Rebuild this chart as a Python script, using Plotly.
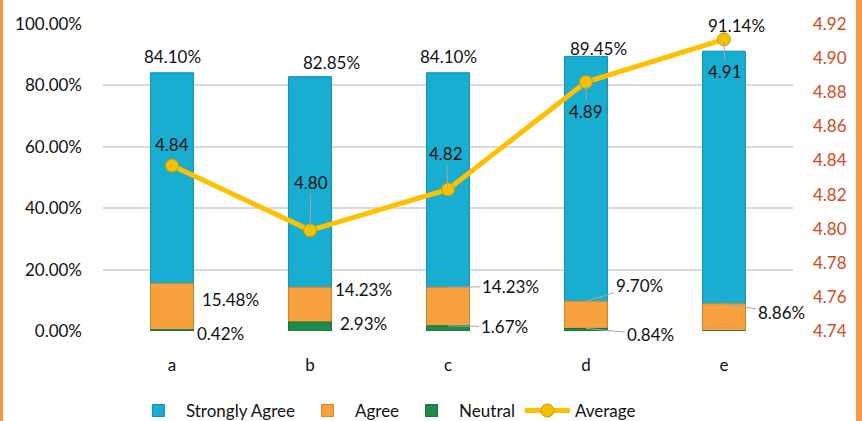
import plotly.graph_objects as go

categories = ["a", "b", "c", "d", "e"]
strongly_agree = [84.10, 82.85, 84.10, 89.45, 91.14]
agree = [15.48, 14.23, 14.23, 9.70, 8.86]
neutral = [0.42, 2.93, 1.67, 0.84, None]
average = [4.837, 4.799, 4.823, 4.886, 4.911]

left_ticks = [0, 0.2, 0.4, 0.6, 0.8, 1.0]
right_ticks = [4.74, 4.76, 4.78, 4.80, 4.82, 4.84, 4.86, 4.88, 4.90, 4.92]

FONT = "Lato"
W, H = 862, 421
ML, MR, MT, MB = 103, 69, 24, 90
PW, PH = W - ML - MR, H - MT - MB

BLUE = "#17AED1"
ORANGE = "#F7A23E"
GREEN = "#1F8B4C"
GOLD = "#FFC000"
RED = "#D2491F"

fig = go.Figure()
fig.add_trace(go.Bar(x=categories, y=[v / 100 for v in strongly_agree], name="Strongly Agree",
                     marker=dict(color=BLUE, line=dict(color="#0E8AA8", width=1)), width=0.31))
fig.add_trace(go.Bar(x=categories, y=[v / 100 for v in agree], name="Agree",
                     marker=dict(color=ORANGE, line=dict(color="#D9822B", width=1)), width=0.31))
fig.add_trace(go.Bar(x=categories, y=[(v or 0) / 100 for v in neutral], name="Neutral",
                     marker=dict(color=GREEN, line=dict(color="#166B39", width=1)), width=0.31))
fig.add_trace(go.Scatter(x=categories, y=average, name="Average", yaxis="y2", mode="lines+markers",
                         line=dict(color=GOLD, width=5),
                         marker=dict(size=13, color="#F2C200", line=dict(color="#C99A00", width=1))))

ann = []
lab_font = dict(family=FONT, size=17, color="#111111")
# Strongly agree labels: (xshift, yshift)
sa_off = [(0, 16), (21, 14), (0, 16), (12, 8), (12, 26)]
for c, v, (dx, dy) in zip(categories, strongly_agree, sa_off):
    ann.append(dict(x=c, y=v / 100, yref="y", text=f"{v:.2f}%", showarrow=False,
                    xshift=dx, yshift=dy, font=lab_font))
# Agree labels: (ax, ay, arrow)
ag_off = [(58, 16, False), (53, 2, False), (62, -1, True), (53, -16, True), (57, 9, True)]
for c, v, (ax, ay, arr) in zip(categories, agree, ag_off):
    if arr:
        ann.append(dict(x=c, y=v / 100, yref="y", text=f"{v:.2f}%", showarrow=True, ax=ax, ay=ay,
                        arrowhead=0, arrowwidth=1, arrowcolor="#A6A6A6", font=lab_font))
    else:
        ann.append(dict(x=c, y=v / 100, yref="y", text=f"{v:.2f}%", showarrow=False,
                        xshift=ax, yshift=-ay, font=lab_font))
ne_off = [(48, 4, False), (53, 1, False), (56, 1, True), (64, 6, True), (0, 0, False)]
for c, v, (ax, ay, arr) in zip(categories, neutral, ne_off):
    if v is None:
        continue
    if arr:
        ann.append(dict(x=c, y=v / 100, yref="y", text=f"{v:.2f}%", showarrow=True, ax=ax, ay=ay,
                        arrowhead=0, arrowwidth=1, arrowcolor="#A6A6A6", font=lab_font))
    else:
        ann.append(dict(x=c, y=v / 100, yref="y", text=f"{v:.2f}%", showarrow=False,
                        xshift=ax, yshift=-ay, font=lab_font))
av_off = [(0, -21, False), (1, -48, True), (-2, -36, True), (0, 30, True), (1, 32, True)]
for c, v, (ax, ay, arr) in zip(categories, average, av_off):
    if arr:
        ann.append(dict(x=c, y=v, yref="y2", text=f"{v:.2f}", showarrow=True, ax=ax, ay=ay,
                        arrowhead=0, arrowwidth=1, arrowcolor="#A6A6A6", standoff=2, font=lab_font))
    else:
        ann.append(dict(x=c, y=v, yref="y2", text=f"{v:.2f}", showarrow=False,
                        xshift=ax, yshift=-ay, font=lab_font))


def px_x(p):
    return (p - ML) / PW


def px_y(p):
    return (H - MB - p) / PH


shapes = [
    dict(type="rect", xref="paper", yref="paper", x0=px_x(0), x1=px_x(3), y0=px_y(H), y1=px_y(0),
         fillcolor="#F79646", line=dict(width=0), layer="above"),
    dict(type="rect", xref="paper", yref="paper", x0=px_x(856), x1=px_x(W), y0=px_y(H), y1=px_y(0),
         fillcolor="#F79646", line=dict(width=0), layer="above"),
]

fig.update_layout(
    width=W, height=H,
    margin=dict(l=ML, r=MR, t=MT, b=MB, autoexpand=False),
    paper_bgcolor="white", plot_bgcolor="white",
    barmode="overlay",
    font=dict(family=FONT, size=17, color="#111111"),
    showlegend=True,
    legend=dict(orientation="h", x=0.41, xanchor="center", y=px_y(393), yanchor="top",
                font=dict(family=FONT, size=17, color="#111111"), traceorder="normal",
                itemwidth=45),
    xaxis=dict(type="category", range=[-0.5, 4.5], autorange=False, showgrid=False, showline=False,
               ticks="", tickfont=dict(family=FONT, size=17, color="#111111"), ticklabelstandoff=22),
    yaxis=dict(range=[0, 1.0], autorange=False, tickvals=left_ticks, tickformat=".2%", showgrid=True,
               gridcolor="#D9D9D9", gridwidth=1.5, zeroline=False, showline=False,
               tickfont=dict(family=FONT, size=17, color="#111111"), ticklabelstandoff=20),
    yaxis2=dict(range=[4.74, 4.92], autorange=False, tickvals=right_ticks, tickformat=".2f",
                overlaying="y", side="right", showgrid=False, zeroline=False, showline=False,
                tickfont=dict(family=FONT, size=17, color=RED), ticklabelstandoff=19),
    annotations=ann,
    shapes=shapes,
)

fig.write_html("out.html")
